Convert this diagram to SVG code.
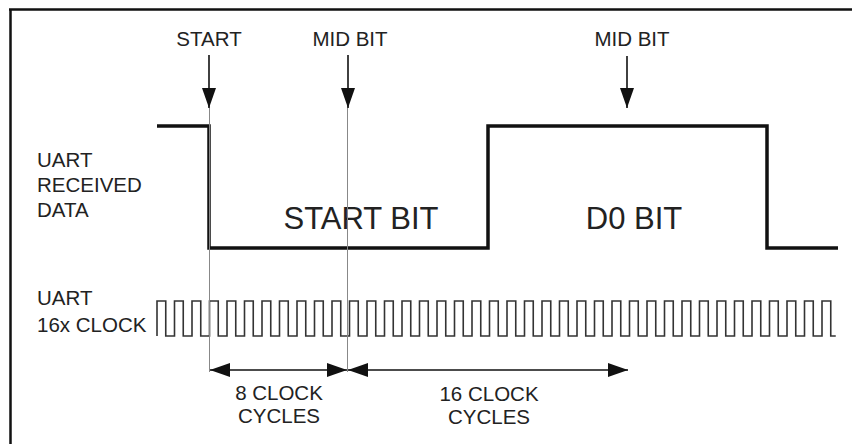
<svg xmlns="http://www.w3.org/2000/svg" width="852" height="444" viewBox="0 0 852 444">
<style>
text{font-family:"Liberation Sans",Arial,sans-serif;fill:#222;}
.lbl{font-size:20.5px;}
.big{font-size:31px;}
.sig{fill:none;stroke:#111;stroke-width:3.5;}
.clk{fill:none;stroke:#333;stroke-width:1.6;}
.arr{stroke:#111;stroke-width:1.6;fill:none;}
.guide{stroke:#888;stroke-width:1;}
</style>
<defs>
<marker id="ah" viewBox="0 0 20 14" refX="20" refY="7" markerWidth="20" markerHeight="14" markerUnits="userSpaceOnUse" orient="auto-start-reverse">
<path d="M0,0 L20,7 L0,14 Z" fill="#111"/>
</marker>
</defs>
<rect width="852" height="444" fill="#fff"/>
<path d="M9,9.5 H852 M10.5,9 V444" stroke="#111" stroke-width="2.5" fill="none"/>
<g id="labels">
<text class="lbl" x="37" y="167">UART</text>
<text class="lbl" x="37" y="192">RECEIVED</text>
<text class="lbl" x="37" y="217">DATA</text>
<text class="lbl" x="37" y="305">UART</text>
<text class="lbl" x="37" y="332">16x CLOCK</text>
</g>
<g id="data-signal">
<path class="sig" d="M157,126 H209 V248 H488 V126 H767 V248 H838"/>
<text class="big" x="361" y="229" text-anchor="middle">START BIT</text>
<text class="big" x="634" y="229" text-anchor="middle">D0 BIT</text>
</g>
<g id="clock-signal">
<path class="clk" d="M157,336 V301
h8.75V336h8.75V301 h8.75V336h8.75V301 h8.75V336h8.75V301 h8.75V336h8.75V301 h8.75V336h8.75V301
h8.75V336h8.75V301 h8.75V336h8.75V301 h8.75V336h8.75V301 h8.75V336h8.75V301 h8.75V336h8.75V301
h8.75V336h8.75V301 h8.75V336h8.75V301 h8.75V336h8.75V301 h8.75V336h8.75V301 h8.75V336h8.75V301
h8.75V336h8.75V301 h8.75V336h8.75V301 h8.75V336h8.75V301 h8.75V336h8.75V301 h8.75V336h8.75V301
h8.75V336h8.75V301 h8.75V336h8.75V301 h8.75V336h8.75V301 h8.75V336h8.75V301 h8.75V336h8.75V301
h8.75V336h8.75V301 h8.75V336h8.75V301 h8.75V336h8.75V301 h8.75V336h8.75V301 h8.75V336h8.75V301
h8.75V336h8.75V301 h8.75V336h8.75V301 h8.75V336h8.75V301 h8.75V336h8.75V301 h8.75V336h8.75V301
h8.75V336h8.75V301 h8.75V336h8.75V301 h8.75V336h8.75V301
h8.75V336h5"/>
</g>
<g id="start-marker">
<text class="lbl" x="209" y="46" text-anchor="middle">START</text>
</g>
<g id="midbit-1">
<text class="lbl" x="350" y="46" text-anchor="middle">MID BIT</text>
</g>
<g id="midbit-2">
<text class="lbl" x="632" y="46" text-anchor="middle">MID BIT</text>
</g>
<g id="cycles-8">
<text class="lbl" x="279" y="400" text-anchor="middle">8 CLOCK</text>
<text class="lbl" x="279" y="423" text-anchor="middle">CYCLES</text>
</g>
<g id="cycles-16">
<text class="lbl" x="489" y="401" text-anchor="middle">16 CLOCK</text>
<text class="lbl" x="489" y="424" text-anchor="middle">CYCLES</text>
</g>
<g id="connectors">
<line class="guide" x1="209.5" y1="108" x2="209.5" y2="372"/>
<line class="guide" x1="347.5" y1="108" x2="347.5" y2="372"/>
<line class="arr" x1="209" y1="55" x2="209" y2="108" marker-end="url(#ah)"/>
<line class="arr" x1="348" y1="55" x2="348" y2="108" marker-end="url(#ah)"/>
<line class="arr" x1="627" y1="56" x2="627" y2="108" marker-end="url(#ah)"/>
<line class="arr" x1="210" y1="370" x2="347" y2="370" marker-start="url(#ah)" marker-end="url(#ah)"/>
<line class="arr" x1="348" y1="370" x2="628" y2="370" marker-start="url(#ah)" marker-end="url(#ah)"/>
</g>
</svg>
